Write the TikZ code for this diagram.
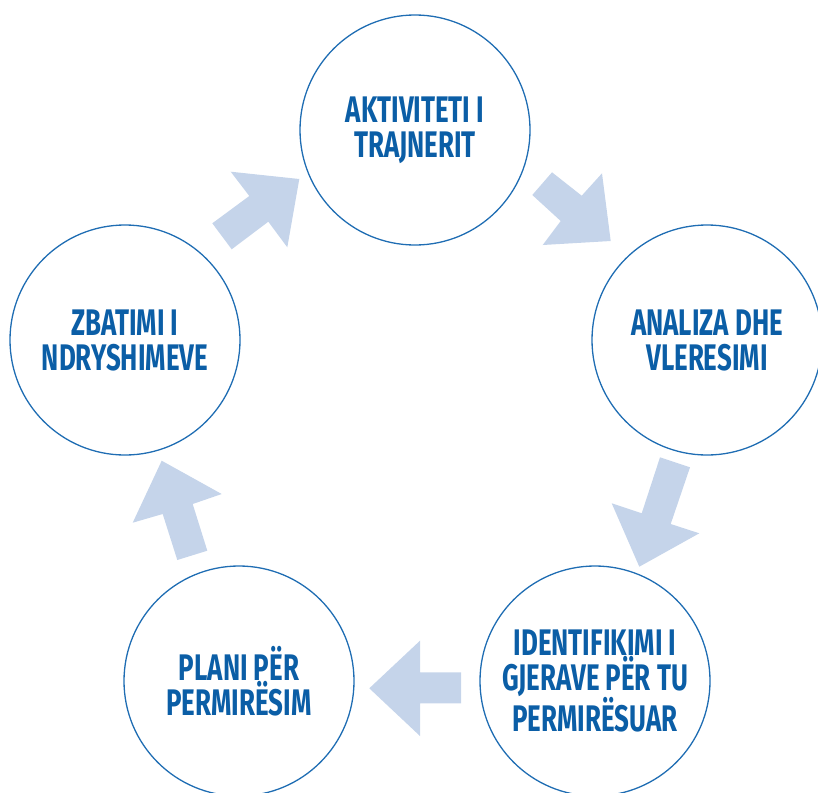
\documentclass[tikz,border=0pt]{standalone}
\usepackage{fontspec}
\setmainfont{Fira Sans}
\newfontfamily\labelfont[FakeStretch=0.70,Ligatures={NoCommon,NoContextual},Contextuals=NoAlternate]{Fira Sans}
\definecolor{ringblue}{HTML}{1F6DB3}
\definecolor{txtblue}{HTML}{0B5EA6}
\definecolor{arrowblue}{HTML}{C5D4EA}
\begin{document}
\begin{tikzpicture}[x=1pt,y=-1pt,
  stage/.style={circle, draw=ringblue, line width=1.3pt, minimum size=230pt, inner sep=0pt,
    align=center, text=txtblue, font=\labelfont\bfseries\fontsize{37}{35}\selectfont},
  blockarrow/.style={fill=arrowblue, draw=none}]
\useasboundingbox (0,0) rectangle (818,792);
% block arrows
\fill[blockarrow] (212.3,223.3) -- (249.3,196) -- (230.7,171.7) -- (299.3,179) -- (287.3,247.3) -- (268.3,221.7) -- (231.7,249.3) -- cycle;
\fill[blockarrow] (552,172.3) -- (581.7,195.7) -- (602,173.3) -- (610.7,241) -- (542.7,245) -- (560.7,221) -- (532.3,195) -- cycle;
\fill[blockarrow] (690,467.3) -- (670.7,524) -- (699.3,533.3) -- (639.3,566.7) -- (611.7,503.3) -- (641.7,513.3) -- (660,457.3) -- cycle;
\fill[blockarrow] (461,672.3) -- (420,672.3) -- (420,640.7) -- (369.3,688.3) -- (420,736) -- (420,703.3) -- (461,703.3) -- cycle;
\fill[blockarrow] (207.3,550.7) -- (192.7,504) -- (221.7,494) -- (161.7,460.7) -- (132.7,522.7) -- (162.7,514) -- (177.3,560) -- cycle;
% stages
\node[stage] (s1) at (415,130) {AKTIVITETI I\\TRAJNERIT};
\node[stage] (s2) at (707,340) {ANALIZA DHE\\VLERESIMI};
\node[stage] (s3) at (595,681) {IDENTIFIKIMI I\\GJERAVE PËR TU\\PERMIRËSUAR};
\node[stage] (s4) at (239,681) {PLANI PËR\\PERMIRËSIM};
\node[stage] (s5) at (125,340) {ZBATIMI I\\NDRYSHIMEVE};
\end{tikzpicture}
\end{document}
